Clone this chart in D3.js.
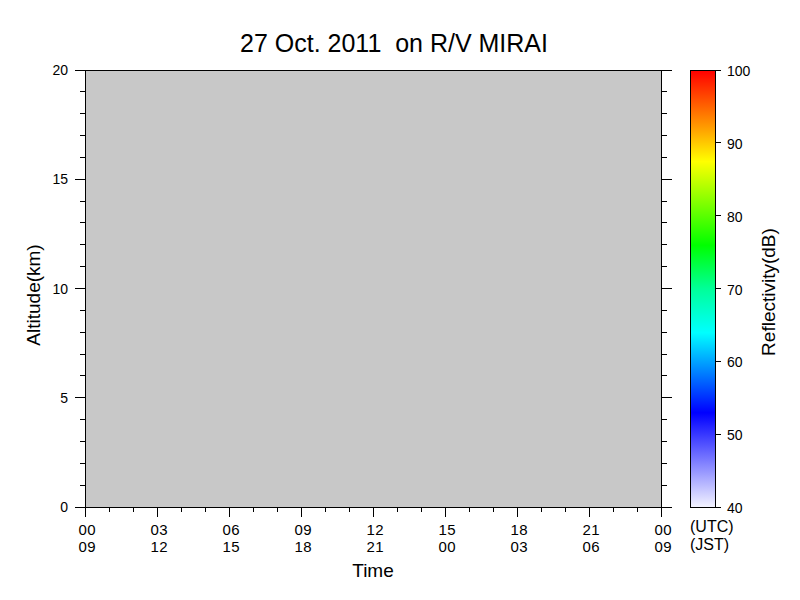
<!DOCTYPE html>
<html><head><meta charset="utf-8">
<script src="https://cdn.jsdelivr.net/npm/d3@7"></script>
<style>body{margin:0;background:#fff}svg{display:block}text{font-family:"Liberation Sans",Arial,sans-serif;fill:#000;white-space:pre}</style>
</head><body>
<script>
const title = "27 Oct. 2011  on R/V MIRAI";
const utcLabels = ["00","03","06","09","12","15","18","21","00"];
const jstLabels = ["09","12","15","18","21","00","03","06","09"];
const majorHours = [0,3,6,9,12,15,18,21,24];
const altTicks = [0,5,10,15,20];
const cbTicks = [40,50,60,70,80,90,100];
const cbStopValues = [40,53,64,70,76,87.5,92,100];
const cbStopColors = ["#f4f4ff","#0000ff","#00ffff","#00ff99","#00ff00","#ffff00","#ffa000","#ff0000"];

const W=800,H=600;
const svg=d3.select("body").append("svg").attr("width",W).attr("height",H);
const x=d3.scaleLinear().domain([0,24]).range([85,661]);
const y=d3.scaleLinear().domain([0,20]).range([507,70]);
const c=d3.scaleLinear().domain([40,100]).range([507,70]);

svg.append("rect").attr("x",x(0)).attr("y",y(20)).attr("width",x(24)-x(0)).attr("height",y(0)-y(20)).attr("fill","#c8c8c8");

const g=svg.append("g").attr("stroke","#000").attr("stroke-width",1).attr("shape-rendering","crispEdges");
g.append("line").attr("x1",x(0)).attr("x2",x(24)).attr("y1",y(20)).attr("y2",y(20));
g.append("line").attr("x1",x(0)).attr("x2",x(24)).attr("y1",y(0)).attr("y2",y(0));
g.append("line").attr("x1",x(0)).attr("x2",x(0)).attr("y1",y(0)).attr("y2",y(20));
g.append("line").attr("x1",x(24)).attr("x2",x(24)).attr("y1",y(0)).attr("y2",y(20));
d3.range(0,21).forEach(v=>{
  const maj=v%5===0;
  g.append("line").attr("x1",x(0)-(maj?10:5)).attr("x2",x(0)).attr("y1",y(v)).attr("y2",y(v));
  g.append("line").attr("x1",x(24)).attr("x2",x(24)+(maj?11:6)).attr("y1",y(v)).attr("y2",y(v));
});
d3.range(0,25).forEach(h=>{
  const maj=h%3===0;
  g.append("line").attr("x1",x(h)).attr("x2",x(h)).attr("y1",y(0)).attr("y2",y(0)+(maj?10:5));
});
altTicks.forEach(v=>svg.append("text").attr("x",68).attr("y",y(v)+5).attr("text-anchor","end").attr("font-size",14).text(v));
majorHours.forEach((h,i)=>{
  svg.append("text").attr("x",x(h)+2).attr("y",535).attr("text-anchor","middle").attr("font-size",15).attr("textLength",17).text(utcLabels[i]);
  svg.append("text").attr("x",x(h)+2).attr("y",552).attr("text-anchor","middle").attr("font-size",15).attr("textLength",17).text(jstLabels[i]);
});
svg.append("text").attr("x",690).attr("y",532).attr("font-size",16).text("(UTC)");
svg.append("text").attr("x",690).attr("y",550).attr("font-size",16).text("(JST)");

svg.append("text").attr("x",394).attr("y",52).attr("text-anchor","middle").attr("font-size",25).text(title);
svg.append("text").attr("x",373).attr("y",577).attr("text-anchor","middle").attr("font-size",19).text("Time");
svg.append("text").attr("transform","translate(40,295) rotate(-90)").attr("text-anchor","middle").attr("font-size",19).text("Altitude(km)");
svg.append("text").attr("transform","translate(775,292) rotate(-90)").attr("text-anchor","middle").attr("font-size",19).text("Reflectivity(dB)");

const defs=svg.append("defs");
const grad=defs.append("linearGradient").attr("id","cb").attr("x1",0).attr("y1",1).attr("x2",0).attr("y2",0);
cbStopValues.forEach((v,i)=>grad.append("stop").attr("offset",(v-40)/60).attr("stop-color",cbStopColors[i]));
svg.append("rect").attr("x",690.5).attr("y",c(100)+0.5).attr("width",25).attr("height",c(40)-c(100)).attr("fill","url(#cb)").attr("stroke","#000");
cbTicks.forEach(v=>{
  g.append("line").attr("x1",715).attr("x2",721).attr("y1",c(v)).attr("y2",c(v));
  svg.append("text").attr("x",727).attr("y",c(v)+6).attr("font-size",14).text(v);
});
</script>
</body></html>
